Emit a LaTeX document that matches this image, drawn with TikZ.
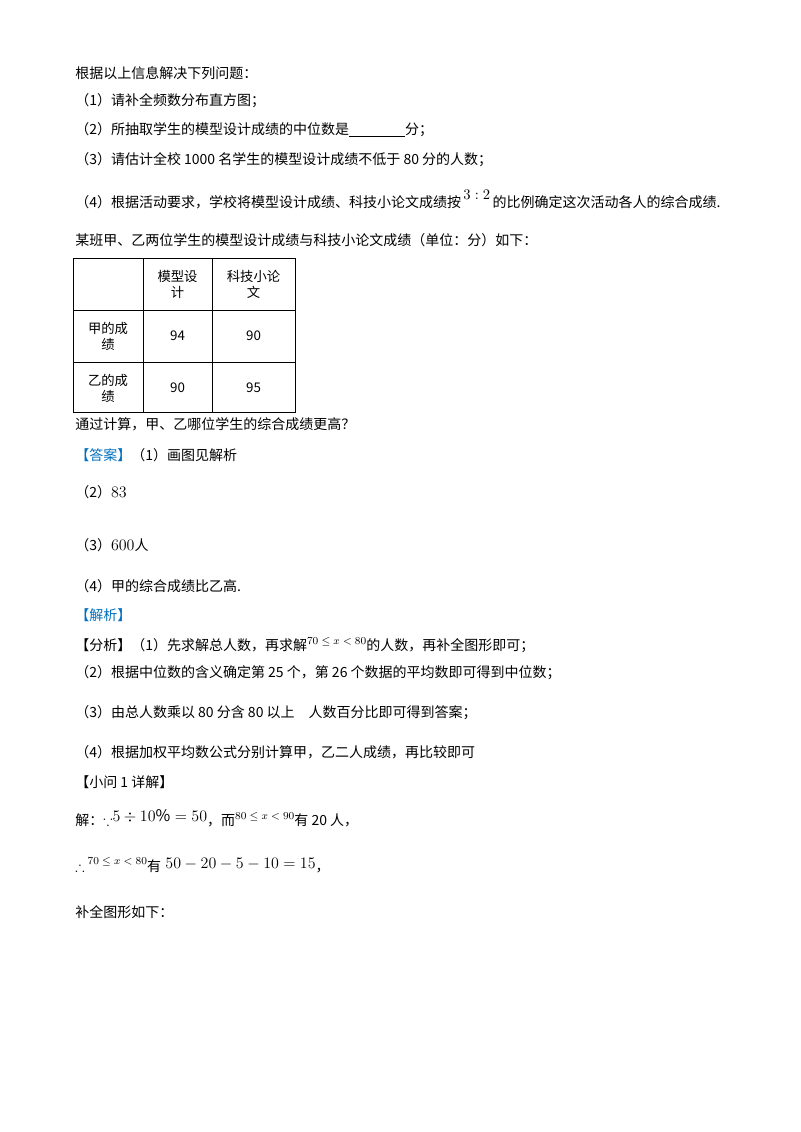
\documentclass[tikz,border=0pt]{standalone}
\usepackage{amssymb}
\usepackage{fontspec}
\setmainfont{Noto Sans CJK SC}
\usetikzlibrary{positioning}
\definecolor{ansblue}{RGB}{0,112,192}
\begin{document}
\begin{tikzpicture}[
        x=0.75pt, y=-0.75pt,
        txt/.style={anchor=west, inner sep=0pt, font=\fontsize{10.5}{12}\selectfont},
        cell/.style={inner sep=0pt, align=center, font=\fontsize{10}{12}\selectfont},
        tag/.style={txt, text=ansblue}
    ]
    \useasboundingbox[fill=white] (0,0) rectangle (800,1132);

    % Questions
    \node[txt] (intro) at (75,73) {根据以上信息解决下列问题：};
    \node[txt] (q1) at (75,101) {（1）请补全频数分布直方图；};
    \node[txt] (q2) at (75,130) {（2）所抽取学生的模型设计成绩的中位数是\underline{\hspace{4em}}分；};
    \node[txt] (q3) at (75,160) {（3）请估计全校 1000 名学生的模型设计成绩不低于 80 分的人数；};
    \node[txt] (q4) at (75,200) {（4）根据活动要求，学校将模型设计成绩、科技小论文成绩按\raisebox{6pt}{$\,3:2\,$}的比例确定这次活动各人的综合成绩.};
    \node[txt] (class) at (75,240) {某班甲、乙两位学生的模型设计成绩与科技小论文成绩（单位：分）如下：};

    % Table
    \draw (73,258) rectangle (295,412);
    \draw (143,258) -- (143,412) (212,258) -- (212,412);
    \draw (73,310) -- (295,310) (73,362) -- (295,362);
    \node[cell] (h1) at (177.5,284) {模型设\\计};
    \node[cell] (h2) at (253.5,284) {科技小论\\文};
    \node[cell] (r1) at (108,336) {甲的成\\绩};
    \node[cell] (r2) at (108,388) {乙的成\\绩};
    \node[cell] (a1) at (177.5,336) {94};
    \node[cell] (a2) at (253.5,336) {90};
    \node[cell] (b1) at (177.5,388) {90};
    \node[cell] (b2) at (253.5,388) {95};

    \node[txt] (ask) at (75,424) {通过计算，甲、乙哪位学生的综合成绩更高？};

    % Answers
    \node[txt] (ans1) at (75,455) {\textcolor{ansblue}{【答案】}（1）画图见解析};
    \node[txt] (ans2) at (75,492) {（2）\fontsize{12}{14}\selectfont$83$};
    \node[txt] (ans3) at (75,545) {（3）\fontsize{12}{14}\selectfont$600$\fontsize{10.5}{12}\selectfont 人};
    \node[txt] (ans4) at (75,586) {（4）甲的综合成绩比乙高.};
    \node[tag] (jx) at (75,615) {【解析】};

    % Analysis
    \node[txt] (f1) at (75,645) {【分析】（1）先求解总人数，再求解\raisebox{4pt}{\footnotesize$70\le x<80$}的人数，再补全图形即可；};
    \node[txt] (f2) at (75,673) {（2）根据中位数的含义确定第 25 个，第 26 个数据的平均数即可得到中位数；};
    \node[txt] (f3) at (75,713) {（3）由总人数乘以 80 分含 80 以上\quad 人数百分比即可得到答案；};
    \node[txt] (f4) at (75,752) {（4）根据加权平均数公式分别计算甲，乙二人成绩，再比较即可};
    \node[txt] (s1) at (75,782) {【小问 1 详解】};
    \node[txt] (s2) at (75,818) {解：$\because$\raisebox{3pt}{\fontsize{12}{14}\selectfont$5\div10\%=50$}，而\raisebox{4pt}{\footnotesize$80\le x<90$}有 20 人，};
    \node[txt] (s3) at (75,865) {$\therefore$\raisebox{5pt}{\footnotesize$\;70\le x<80$}有\raisebox{2pt}{\fontsize{13}{15}\selectfont$\;50-20-5-10=15$}，};
    \node[txt] (s4) at (75,912) {补全图形如下：};
\end{tikzpicture}
\end{document}
